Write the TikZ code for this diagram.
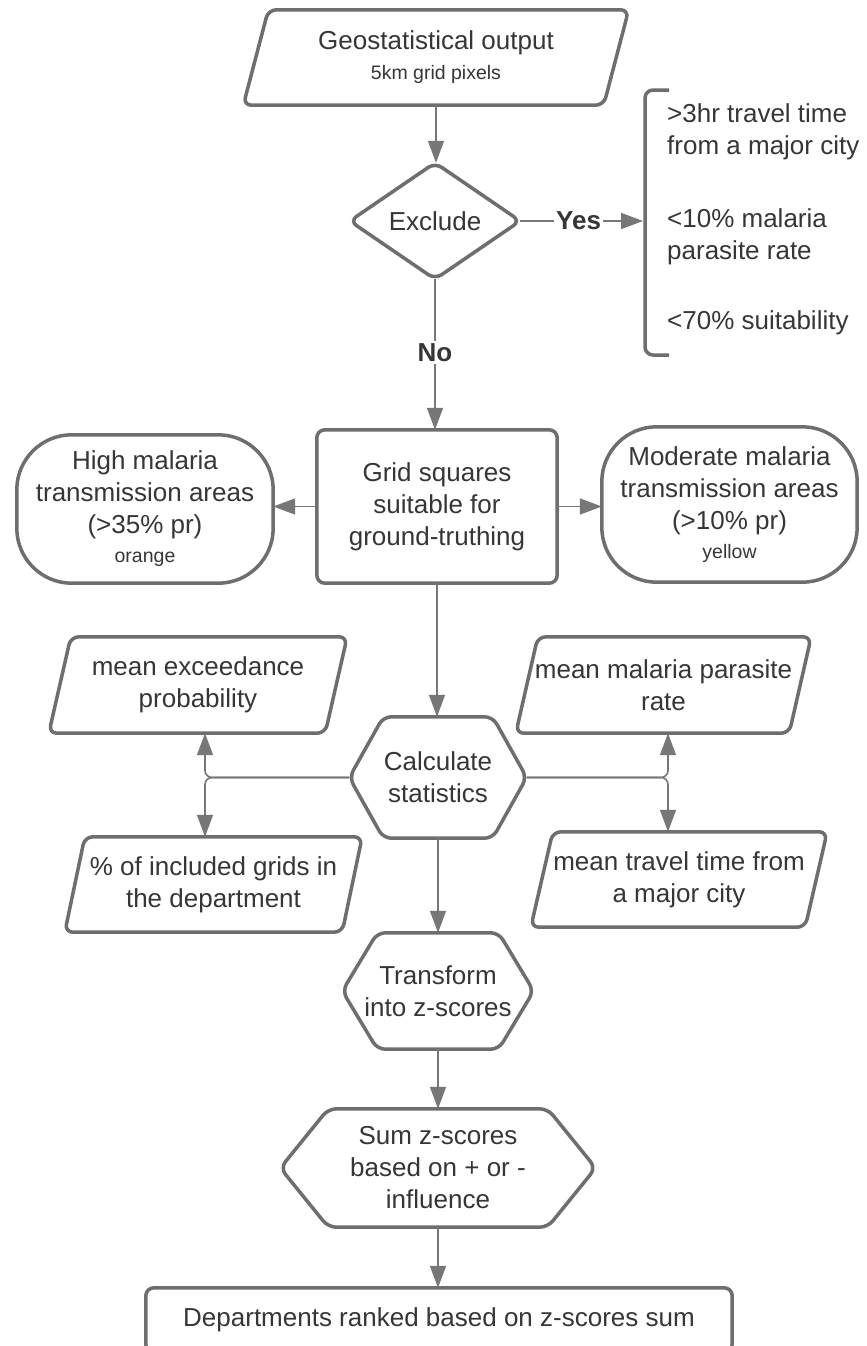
\documentclass[tikz,border=0pt]{standalone}
\usepackage{fontspec}
\setmainfont{Liberation Sans}
\usetikzlibrary{arrows.meta,calc}
\definecolor{shp}{HTML}{6E6E6E}
\definecolor{cn}{HTML}{777777}
\definecolor{tx}{HTML}{363636}
\tikzset{
 shapeline/.style={draw=shp, line width=3.5pt, rounded corners=8pt, line join=round},
 conn/.style={draw=cn, line width=1.6pt, -{Triangle[length=22pt,width=16pt]}},
 lbl/.style={font=\fontsize{26}{32}\selectfont\bfseries, text=tx, fill=white, inner sep=2pt},
 blk/.style={draw=none, inner sep=0pt, align=center, text=tx, font=\fontsize{26}{32}\selectfont},
}
\newcommand\smalltext[1]{{\fontsize{19.5}{32}\selectfont #1}}
\newcommand\drawpara[2]{\draw[shapeline] ([xshift=#2*0.5pt]#1.north) -- (#1.north east) -- ([xshift=-#2pt]#1.south east) -- (#1.south west) -- ([xshift=#2pt]#1.north west) -- cycle;}
\newcommand\drawhex[2]{\draw[shapeline] (#1.north) -- ([xshift=-#2pt]#1.north east) -- (#1.east) -- ([xshift=-#2pt]#1.south east) -- ([xshift=#2pt]#1.south west) -- (#1.west) -- ([xshift=#2pt]#1.north west) -- cycle;}
\begin{document}
\begin{tikzpicture}[x=1pt,y=-1pt]
\fill[white] (0,0) rectangle (867,1346);
\useasboundingbox (0,0) rectangle (867,1346);

% nodes
\node[blk, minimum width=385pt, minimum height=95pt] (geo) at (436,57.5) {Geostatistical output\\[-2pt]\smalltext{5km grid pixels}};
\node[blk, minimum width=170pt, minimum height=116pt] (ex) at (435,221) {Exclude};
\node[blk, anchor=west, align=left] (crit) at (667,219) {>3hr travel time\\from a major city\\[41pt]<10\% malaria\\parasite rate\\[38pt]<70\% suitability};
\coordinate (brk) at (643,221);
\node[blk, minimum width=240pt, minimum height=153pt] (grid) at (437,506.5) {Grid squares\\suitable for\\ground-truthing};
\node[blk, minimum width=256pt, minimum height=148pt] (high) at (145,509) {High malaria\\transmission areas\\(>35\% pr)\\[-3pt]\smalltext{orange}};
\node[blk, minimum width=255pt, minimum height=155pt] (mod) at (729.5,504.5) {Moderate malaria\\transmission areas\\(>10\% pr)\\[-3pt]\smalltext{yellow}};
\node[blk, minimum width=177pt, minimum height=121pt] (calc) at (438,777.5) {Calculate\\statistics};
\node[blk, minimum width=298pt, minimum height=96pt] (mexc) at (198,685) {mean exceedance\\probability};
\node[blk, minimum width=295pt, minimum height=96pt] (mpar) at (663.5,685) {mean malaria parasite\\rate};
\node[blk, minimum width=297pt, minimum height=95pt] (pct) at (213.5,884.5) {\% of included grids in\\the department};
\node[blk, minimum width=296pt, minimum height=95pt] (mtrav) at (679,879.5) {mean travel time from\\a major city};
\node[blk, minimum width=191pt, minimum height=116pt] (trans) at (438,991) {Transform\\into z-scores};
\node[blk, minimum width=315pt, minimum height=118pt] (sum) at (438,1168) {Sum z-scores\\based on + or -\\influence};
\node[blk, minimum width=586pt, minimum height=64pt] (rank) at (439,1320) {Departments ranked based on z-scores sum};

% outlines
\drawpara{geo}{25}
\draw[shapeline] ($(ex.north)!0.5!(ex.east)$) -- (ex.east) -- (ex.south) -- (ex.west) -- (ex.north) -- cycle;
\draw[shapeline] (669,90) -- (645,90) -- (645,355) -- (669,355);
\draw[shapeline] (grid.north west) rectangle (grid.south east);
\draw[shapeline, rounded corners=55pt] (high.north west) rectangle (high.south east);
\draw[shapeline, rounded corners=55pt] (mod.north west) rectangle (mod.south east);
\drawhex{calc}{34}
\drawpara{mexc}{22}
\drawpara{mpar}{22}
\drawpara{pct}{20}
\drawpara{mtrav}{22}
\drawhex{trans}{35}
\drawhex{sum}{48}
\draw[shapeline] (rank.north west) rectangle (rank.south east);

% connectors
\draw[conn] (geo.south) -- (geo.south |- ex.north);
\draw[conn] (ex.east) -- node[lbl, pos=0.476]{Yes} (brk);
\draw[conn] (ex.south) -- node[lbl, pos=0.487]{No} (ex.south |- grid.north);
\draw[conn] (grid.west) -- (grid.west -| high.east);
\draw[conn] (grid.east) -- (grid.east -| mod.west);
\draw[conn] (grid.south) -- (grid.south |- calc.north);
\coordinate (jl) at (205,777.5);
\coordinate (jr) at (668,777.5);
\draw[conn, rounded corners=7pt] (calc.west) -| (jl |- mexc.south);
\draw[conn, rounded corners=7pt] (calc.west) -| (jl |- pct.north);
\draw[conn, rounded corners=7pt] (calc.east) -| (jr |- mpar.south);
\draw[conn, rounded corners=7pt] (calc.east) -| (jr |- mtrav.north);
\draw[conn] (calc.south) -- (calc.south |- trans.north);
\draw[conn] (trans.south) -- (trans.south |- sum.north);
\draw[conn] (sum.south) -- (sum.south |- rank.north);
\end{tikzpicture}
\end{document}
